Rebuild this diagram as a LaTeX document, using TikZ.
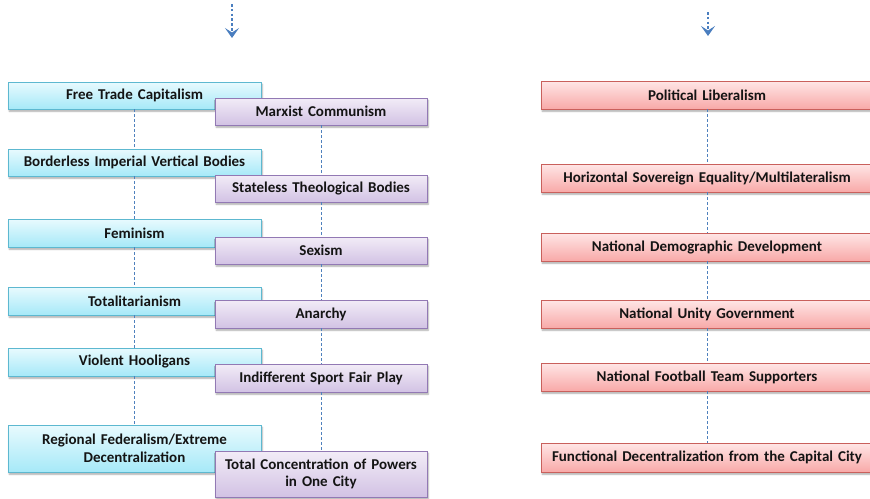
\documentclass[tikz,border=0pt]{standalone}
\usepackage{fontspec}
\setmainfont{Carlito}
\usetikzlibrary{shadows.blur,arrows.meta}

\definecolor{bluetop}{HTML}{E8FAFE}
\definecolor{bluebot}{HTML}{A6E9F8}
\definecolor{blueedge}{HTML}{5DB8D0}
\definecolor{purtop}{HTML}{F2ECF7}
\definecolor{purbot}{HTML}{D2C2E4}
\definecolor{puredge}{HTML}{9279B4}
\definecolor{redtop}{HTML}{FFE6E6}
\definecolor{redbot}{HTML}{F8A9A8}
\definecolor{rededge}{HTML}{C9605C}
\definecolor{linkblue}{HTML}{4F81BD}
\definecolor{arrowblue}{HTML}{4A7EBF}
\definecolor{ink}{HTML}{141414}

\tikzset{
  box/.style={rectangle, inner sep=0pt, align=center, text=ink,
    font=\fontsize{15}{17.5}\selectfont\bfseries, line width=0.9pt,
    blur shadow={shadow xshift=1.2pt, shadow yshift=-2.2pt,
      shadow blur steps=6, shadow blur radius=1.6pt, shadow opacity=35}},
  bluebox/.style={box, draw=blueedge, top color=bluetop, bottom color=bluebot,
    minimum width=253pt, text width=244pt},
  purbox/.style={box, draw=puredge, top color=purtop, bottom color=purbot,
    minimum width=212pt, text width=206pt},
  redbox/.style={box, draw=rededge, top color=redtop, bottom color=redbot,
    minimum width=332pt, text width=324pt},
  link/.style={draw=linkblue, line width=0.8pt, dash pattern=on 3pt off 2pt},
  flowarrow/.style={draw=arrowblue, line width=2.8pt, dash pattern=on 2.6pt off 2.2pt,
    -{Stealth[length=10pt, width=14pt, inset=4.5pt]}},
}

\begin{document}
\begin{tikzpicture}[x=1pt, y=-1pt]
\useasboundingbox (0,0) rectangle (870,498);

% arrows entering the two columns
\coordinate (arrL0) at (232,4);
\coordinate (arrL1) at (232,38);
\coordinate (arrR0) at (708,12);
\coordinate (arrR1) at (708,36);
\draw[flowarrow] (arrL0) -- (arrL1);
\draw[flowarrow] (arrR0) -- (arrR1);

% left column: opposed pairs
\node[bluebox, minimum height=27pt] (b1) at (134.5,95.5) {Free Trade Capitalism};
\node[purbox, minimum height=27pt] (p1) at (321,111.5) {Marxist Communism};

\node[bluebox, minimum height=27pt] (b2) at (134.5,162.5) {Borderless Imperial Vertical Bodies};
\node[purbox, minimum height=27pt] (p2) at (321,188.5) {Stateless Theological Bodies};

\node[bluebox, minimum height=28pt] (b3) at (134.5,233) {Feminism};
\node[purbox, minimum height=27pt] (p3) at (321,250.5) {Sexism};

\node[bluebox, minimum height=28pt] (b4) at (134.5,301) {Totalitarianism};
\node[purbox, minimum height=28pt] (p4) at (321,314) {Anarchy};

\node[bluebox, minimum height=28pt] (b5) at (134.5,362) {Violent Hooligans};
\node[purbox, minimum height=28pt] (p5) at (321,378) {Indifferent Sport Fair Play};

\node[bluebox, minimum height=47pt] (b6) at (134.5,448.5) {Regional Federalism/Extreme\\Decentralization};
\node[purbox, minimum height=46pt] (p6) at (321,474) {Total Concentration of Powers\\in One City};

% right column: balanced alternatives
\node[redbox, minimum height=28pt] (r1) at (707,95) {Political Liberalism};
\node[redbox, minimum height=28pt] (r2) at (707,178) {Horizontal Sovereign Equality/Multilateralism};
\node[redbox, minimum height=28pt] (r3) at (707,247) {National Demographic Development};
\node[redbox, minimum height=28pt] (r4) at (707,314) {National Unity Government};
\node[redbox, minimum height=28pt] (r5) at (707,377) {National Football Team Supporters};
\node[redbox, minimum height=29pt] (r6) at (707,457.5) {Functional Decentralization from the Capital City};

% dashed links down each column
\foreach \a/\b in {1/2,2/3,3/4,4/5,5/6}{
  \draw[link] (b\a.south) -- (b\b.north);
  \draw[link] (p\a.south) -- (p\b.north);
  \draw[link] (r\a.south) -- (r\b.north);
}
\end{tikzpicture}
\end{document}
